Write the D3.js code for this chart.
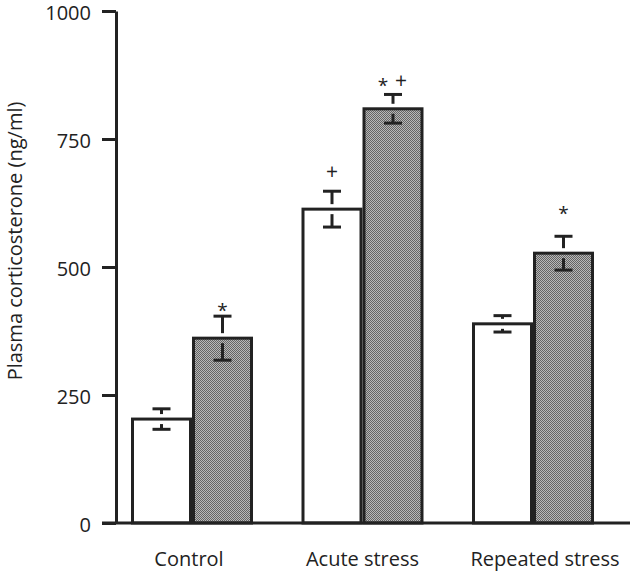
<!DOCTYPE html>
<html>
<head>
<meta charset="utf-8">
<script src="https://cdn.jsdelivr.net/npm/d3@7"></script>
<style>
  html, body { margin: 0; padding: 0; background: #fff; }
  svg { display: block; font-family: "Open Sans", "Noto Sans", sans-serif; }
</style>
</head>
<body>
<svg id="chart" width="636" height="576"></svg>
<script>
// ---- data ----
const categories = ["Control", "Acute stress", "Repeated stress"];
const seriesNames = ["Open", "Filled"];
const openMean = [203, 613, 389];
const openSem = [20, 35, 16];
const filledMean = [361, 809, 527];
const filledSem = [43, 28, 33];
const yTicks = [0, 250, 500, 750, 1000];
const yLabel = "Plasma corticosterone (ng/ml)";
// significance marks: category index, series index, symbols, level (ng/ml)
const markCategory = [0, 1, 1, 2];
const markSeries = [1, 0, 1, 1];
const markText = ["*", "+", "* +", "*"];
const markLevel = [424, 686, 863, 613];

// ---- layout ----
const svg = d3.select("#chart");
const ink = "#222";
const y = d3.scaleLinear().domain([0, 1000]).range([523, 11]);
const x = d3.scalePoint().domain(categories).range([192, 533]);
const barW = 58, gap = 3;
const axisX = 116;

// pattern fill for filled bars
const defs = svg.append("defs");
const pat = defs.append("pattern").attr("id", "dots")
  .attr("patternUnits", "userSpaceOnUse").attr("width", 2).attr("height", 2);
pat.append("rect").attr("width", 2).attr("height", 2).attr("fill", "#b8b8b8");
pat.append("rect").attr("width", 1).attr("height", 1).attr("fill", "#646464");
pat.append("rect").attr("x", 1).attr("y", 1).attr("width", 1).attr("height", 1).attr("fill", "#646464");

const rows = [];
categories.forEach((c, i) => {
  rows.push({ c, s: 0, mean: openMean[i], sem: openSem[i] });
  rows.push({ c, s: 1, mean: filledMean[i], sem: filledSem[i] });
});
const barX = d => d.s === 0 ? x(d.c) - gap / 2 - barW : x(d.c) + gap / 2;
const barC = d => barX(d) + barW / 2;

// bars
svg.append("g").selectAll("rect").data(rows).join("rect")
  .attr("x", barX)
  .attr("y", d => y(d.mean))
  .attr("width", barW)
  .attr("height", d => y(0) - y(d.mean))
  .attr("fill", d => d.s === 0 ? "#fff" : "url(#dots)")
  .attr("stroke", ink)
  .attr("stroke-width", 3);

// error bars
const eb = svg.append("g").attr("stroke", ink).attr("stroke-width", 3).attr("fill", "none");
const capW = 18, stemGap = 5;
rows.forEach(d => {
  const cx = barC(d);
  const yt = y(d.mean + d.sem), yb = y(d.mean - d.sem), ym = y(d.mean);
  eb.append("line").attr("x1", cx - capW / 2).attr("x2", cx + capW / 2).attr("y1", yt).attr("y2", yt);
  eb.append("line").attr("x1", cx - capW / 2).attr("x2", cx + capW / 2).attr("y1", yb).attr("y2", yb);
  if (ym - stemGap > yt + 1) eb.append("line").attr("x1", cx).attr("x2", cx).attr("y1", yt).attr("y2", ym - stemGap);
  if (yb - 1 > ym + stemGap) eb.append("line").attr("x1", cx).attr("x2", cx).attr("y1", ym + stemGap).attr("y2", yb);
});

// y axis
const yAxis = d3.axisLeft(y).tickValues(yTicks).tickFormat(d3.format("d"))
  .tickSize(14).tickSizeOuter(0).tickPadding(11);
const ga = svg.append("g").attr("transform", `translate(${axisX},0)`).call(yAxis);
ga.select(".domain").attr("stroke", ink).attr("stroke-width", 3);
ga.selectAll(".tick line").attr("stroke", ink).attr("stroke-width", 3);
ga.selectAll(".tick text").attr("fill", ink).attr("font-size", 20)
  .attr("font-family", "Open Sans, sans-serif").attr("dy", "0.4em");

// baseline
svg.append("line").attr("x1", axisX - 14).attr("x2", 630)
  .attr("y1", y(0)).attr("y2", y(0)).attr("stroke", ink).attr("stroke-width", 3);

// x labels
const labelShift = [-3, 0, 12];
svg.append("g").selectAll("text").data(categories).join("text")
  .attr("x", (d, i) => x(d) + labelShift[i])
  .attr("y", 566)
  .attr("text-anchor", "middle")
  .attr("font-size", 20)
  .attr("fill", ink)
  .text(d => d);

// y label
svg.append("text")
  .attr("transform", `translate(22,241) rotate(-90)`)
  .attr("text-anchor", "middle")
  .attr("font-size", 20)
  .attr("fill", ink)
  .text(yLabel);

// significance marks
markText.forEach((t, i) => {
  const d = rows.find(r => r.c === categories[markCategory[i]] && r.s === markSeries[i]);
  const cx = barC(d);
  const cy = y(markLevel[i]);
  const syms = t.split(" ");
  syms.forEach((s, k) => {
    const off = syms.length > 1 ? (k === 0 ? -10 : 8) : 0;
    svg.append("text")
      .attr("x", cx + off)
      .attr("y", cy + (s === "*" ? 11 : 7))
      .attr("text-anchor", "middle")
      .attr("font-size", s === "*" ? 19 : 21)
      .attr("fill", ink)
      .text(s);
  });
});
</script>
</body>
</html>
